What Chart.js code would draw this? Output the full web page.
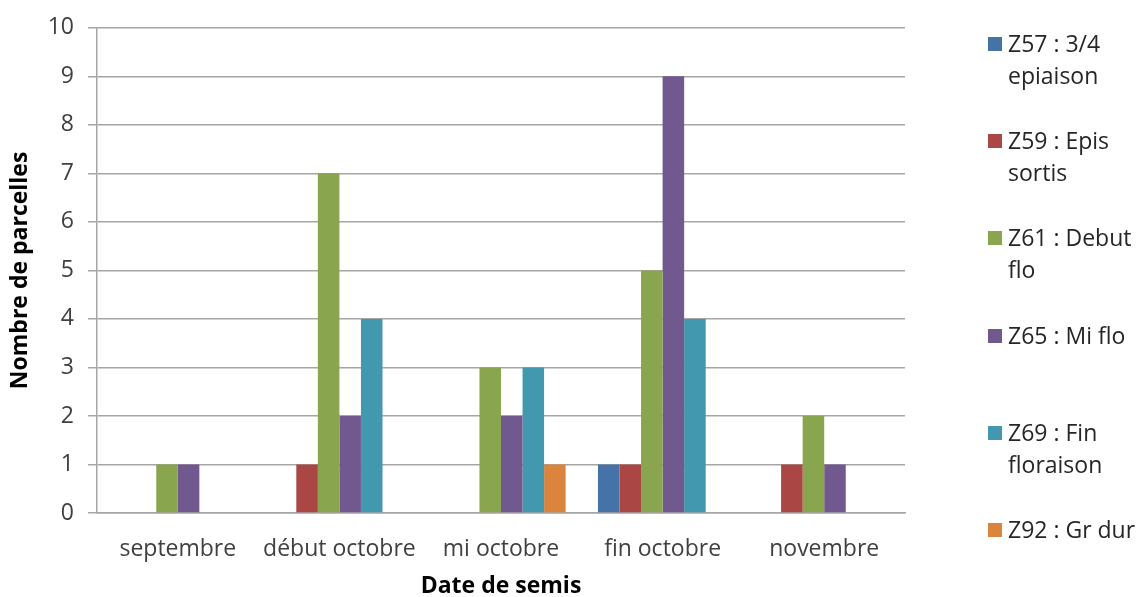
<!DOCTYPE html>
<html>
<head>
<meta charset="utf-8">
<script src="https://cdn.jsdelivr.net/npm/chart.js@4.4.0/dist/chart.umd.min.js"></script>
<style>
  html, body { margin: 0; padding: 0; background: #fff; overflow: hidden; }
  #wrap { position: relative; width: 1138px; height: 597px; }
  #legend { position: absolute; left: 986px; top: 27px; font-family: "Open Sans", sans-serif; font-size: 23px; color: #262626; }
  .item { position: relative; height: 97.2px; padding-left: 22px; width: 132px; line-height: 32px; }
  .box { position: absolute; left: 2px; top: 10px; width: 14px; height: 14px; }
</style>
</head>
<body>
<div id="wrap">
  <canvas id="chart1" width="1138" height="597"></canvas>
  <div id="legend"></div>
</div>
<script>
// categories (date de semis)
const categories = ['septembre', 'début octobre', 'mi octobre', 'fin octobre', 'novembre'];

// stades
const seriesNames = ['Z57 : 3/4 epiaison', 'Z59 : Epis sortis', 'Z61 : Debut flo', 'Z65 : Mi flo', 'Z69 : Fin floraison', 'Z92 : Gr dur'];
const seriesColors = ['#4572A7', '#AA4643', '#89A54E', '#71588F', '#4198AF', '#DB843D'];

// nombre de parcelles per stade
const z57 = [0, 0, 0, 1, 0];
const z59 = [0, 1, 0, 1, 1];
const z61 = [1, 7, 3, 5, 2];
const z65 = [1, 2, 2, 9, 1];
const z69 = [0, 4, 3, 4, 0];
const z92 = [0, 0, 1, 0, 0];
const seriesValues = [z57, z59, z61, z65, z69, z92];

const yTicks = [0, 1, 2, 3, 4, 5, 6, 7, 8, 9, 10];

const datasets = seriesNames.map(function (name, i) {
    return {
        label: name,
        data: seriesValues[i],
        backgroundColor: seriesColors[i],
        borderWidth: 0,
        categoryPercentage: 0.8,
        barPercentage: 1.0
    };
});

const config = {
    type: 'bar',
    data: { labels: categories, datasets: datasets },
    options: {
        responsive: false,
        animation: false,
        layout: { padding: { top: 27, right: 233, left: 0, bottom: 0 } },
        plugins: {
            legend: { display: false },
            tooltip: { enabled: false }
        },
        scales: {
            x: {
                grid: { display: false },
                border: { color: '#a6a6a6', width: 1.5 },
                ticks: {
                    color: '#404040',
                    padding: 15,
                    font: { family: 'Open Sans', size: 23 }
                },
                title: {
                    display: true,
                    text: 'Date de semis',
                    color: '#000',
                    padding: { top: 4, bottom: 0 },
                    font: { family: 'Open Sans', size: 23, weight: 'bold', lineHeight: 0.9 }
                },
                afterFit: function (s) { s.height = 84; }
            },
            y: {
                min: 0,
                max: 10,
                afterBuildTicks: function (s) { s.ticks = yTicks.map(function (v) { return { value: v }; }); },
                grid: { color: '#a6a6a6', lineWidth: 1.5, tickLength: 9 },
                border: { color: '#a6a6a6', width: 1.5 },
                ticks: {
                    color: '#404040',
                    padding: 14,
                    font: { family: 'Open Sans', size: 23 }
                },
                title: {
                    display: true,
                    text: 'Nombre de parcelles',
                    color: '#000',
                    padding: { top: 7, bottom: 0 },
                    font: { family: 'Open Sans', size: 23, weight: 'bold' }
                },
                afterFit: function (s) { s.width = 97; }
            }
        }
    }
};

const chart1 = new Chart(document.getElementById('chart1'), config);

// legend on the right
const legend = document.getElementById('legend');
seriesNames.forEach(function (name, i) {
    const item = document.createElement('div');
    item.className = 'item';
    const box = document.createElement('span');
    box.className = 'box';
    box.style.background = seriesColors[i];
    item.appendChild(box);
    item.appendChild(document.createTextNode(name));
    legend.appendChild(item);
});
</script>
</body>
</html>
